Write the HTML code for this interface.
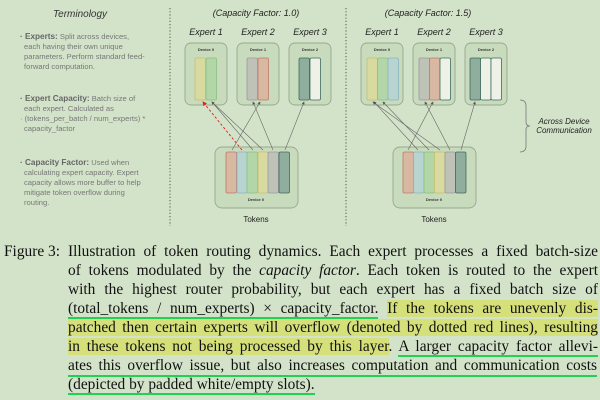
<!DOCTYPE html>
<html><head><meta charset="utf-8"><style>
html,body{margin:0;padding:0;background:#d3e3c9;width:600px;height:400px;overflow:hidden}
.cap{position:absolute;left:0;font-family:"Liberation Serif",serif;font-size:15.4px;color:#111;white-space:nowrap}
.ln{position:absolute;left:68px;width:530px;text-align:justify;text-align-last:justify;white-space:nowrap}
.hl{background:#d5e07a}
.ul{border-bottom:2px solid #22d055;padding-bottom:0px}
</style></head><body>
<svg width="600" height="230" style="position:absolute;left:0;top:0" font-family="Liberation Sans, sans-serif">
<defs><marker id="a" markerWidth="5" markerHeight="5" refX="4" refY="2.5" orient="auto"><path d="M0,0 L5,2.5 L0,5z" fill="#555"/></marker>
<marker id="r" markerWidth="5" markerHeight="5" refX="4" refY="2.5" orient="auto"><path d="M0,0 L5,2.5 L0,5z" fill="#e02020"/></marker></defs>
<text x="80" y="17" font-size="10" font-style="italic" text-anchor="middle" fill="#333">Terminology</text>
<g font-size="7.6" fill="#777">
<text x="20" y="39"><tspan font-weight="bold" fill="#666" font-size="8.2">· Experts:</tspan> Split across devices,</text>
<text x="24" y="49">each having their own unique</text>
<text x="24" y="59">parameters. Perform standard feed-</text>
<text x="24" y="69">forward computation.</text>
<text x="20" y="101"><tspan font-weight="bold" fill="#666" font-size="8.2">· Expert Capacity:</tspan> Batch size of</text>
<text x="24" y="111">each expert. Calculated as</text>
<text x="20" y="121">· (tokens_per_batch / num_experts) *</text>
<text x="24" y="131">capacity_factor</text>
<text x="20" y="165"><tspan font-weight="bold" fill="#666" font-size="8.2">· Capacity Factor:</tspan> Used when</text>
<text x="24" y="175">calculating expert capacity. Expert</text>
<text x="24" y="185">capacity allows more buffer to help</text>
<text x="24" y="195">mitigate token overflow during</text>
<text x="24" y="205">routing.</text>
</g>
<line x1="170" y1="8" x2="170" y2="226" stroke="#555" stroke-dasharray="1.2,2"/>
<line x1="346" y1="8" x2="346" y2="226" stroke="#555" stroke-dasharray="1.2,2"/>
<g font-size="9" font-style="italic" fill="#222" text-anchor="middle">
<text x="256" y="16">(Capacity Factor: 1.0)</text>
<text x="428" y="16">(Capacity Factor: 1.5)</text>
<text x="206" y="35">Expert 1</text><text x="258" y="35">Expert 2</text><text x="310" y="35">Expert 3</text>
<text x="382" y="35">Expert 1</text><text x="434" y="35">Expert 2</text><text x="486" y="35">Expert 3</text>
<text x="564" y="124" font-size="8">Across Device</text><text x="564" y="133" font-size="8">Communication</text>
</g>
<path d="M520,100 Q526,100 526,106 L526,122 Q526,126 530,126 Q526,126 526,130 L526,146 Q526,152 520,152" fill="none" stroke="#777" stroke-width="0.8"/>
<g fill="#c8dbbd" stroke="#97a890" stroke-width="0.9">
<rect x="185" y="43" width="42" height="62" rx="6"/><rect x="237" y="43" width="42" height="62" rx="6"/><rect x="289" y="43" width="42" height="62" rx="6"/>
<rect x="215" y="147" width="83" height="61" rx="7"/>
<rect x="361" y="43" width="42" height="62" rx="6"/><rect x="413" y="43" width="42" height="62" rx="6"/><rect x="465" y="43" width="42" height="62" rx="6"/>
<rect x="393" y="147" width="83" height="61" rx="7"/>
</g>
<g font-size="4" font-weight="bold" fill="#333" text-anchor="middle">
<text x="206" y="51">Device 0</text><text x="258" y="51">Device 1</text><text x="310" y="51">Device 2</text>
<text x="256" y="201">Device 0</text>
<text x="382" y="51">Device 0</text><text x="434" y="51">Device 1</text><text x="486" y="51">Device 2</text>
<text x="434" y="201">Device 0</text>
</g>
<g font-size="8" fill="#222" text-anchor="middle"><text x="256" y="222">Tokens</text><text x="434" y="222">Tokens</text></g>
<g stroke-width="0.8">
<rect x="195" y="58" width="10.5" height="42" rx="1.5" fill="#d8daa0" stroke="#c9c070"/>
<rect x="206" y="58" width="10.5" height="42" rx="1.5" fill="#b2d6a8" stroke="#8cc080"/>
<rect x="247" y="58" width="10.5" height="42" rx="1.5" fill="#bfc2b6" stroke="#9a9aa0"/>
<rect x="258" y="58" width="10.5" height="42" rx="1.5" fill="#d8b8a0" stroke="#c07a6a"/>
<rect x="299" y="58" width="10.5" height="42" rx="1.5" fill="#8fae9e" stroke="#3f6a60"/>
<rect x="310" y="58" width="10.5" height="42" rx="1.5" fill="#eef2e6" stroke="#3f6a60"/>
<rect x="226" y="152" width="10.5" height="41" rx="1.5" fill="#d8b8a0" stroke="#c07a6a"/>
<rect x="237" y="152" width="10.5" height="41" rx="1.5" fill="#b8d4d0" stroke="#8ab4c0"/>
<rect x="247" y="152" width="10.5" height="41" rx="1.5" fill="#b2d6a8" stroke="#8cc080"/>
<rect x="258" y="152" width="10.5" height="41" rx="1.5" fill="#d8daa0" stroke="#c9c070"/>
<rect x="268" y="152" width="10.5" height="41" rx="1.5" fill="#bfc2b6" stroke="#9a9aa0"/>
<rect x="279" y="152" width="10.5" height="41" rx="1.5" fill="#8fae9e" stroke="#3f6a60"/>
<rect x="367" y="58" width="10.5" height="42" rx="1.5" fill="#d8daa0" stroke="#c9c070"/>
<rect x="377.5" y="58" width="10.5" height="42" rx="1.5" fill="#b2d6a8" stroke="#8cc080"/>
<rect x="388" y="58" width="10.5" height="42" rx="1.5" fill="#b8d4d0" stroke="#8ab4c0"/>
<rect x="419" y="58" width="10.5" height="42" rx="1.5" fill="#bfc2b6" stroke="#9a9aa0"/>
<rect x="429.5" y="58" width="10.5" height="42" rx="1.5" fill="#d8b8a0" stroke="#c07a6a"/>
<rect x="440" y="58" width="10.5" height="42" rx="1.5" fill="#eef2e6" stroke="#3f6a60"/>
<rect x="470" y="58" width="10.5" height="42" rx="1.5" fill="#8fae9e" stroke="#3f6a60"/>
<rect x="480.5" y="58" width="10.5" height="42" rx="1.5" fill="#eef2e6" stroke="#3f6a60"/>
<rect x="491" y="58" width="10.5" height="42" rx="1.5" fill="#eef2e6" stroke="#3f6a60"/>
<rect x="403" y="152" width="10.5" height="41" rx="1.5" fill="#d8b8a0" stroke="#c07a6a"/>
<rect x="413.5" y="152" width="10.5" height="41" rx="1.5" fill="#b8d4d0" stroke="#8ab4c0"/>
<rect x="424" y="152" width="10.5" height="41" rx="1.5" fill="#b2d6a8" stroke="#8cc080"/>
<rect x="434.5" y="152" width="10.5" height="41" rx="1.5" fill="#d8daa0" stroke="#c9c070"/>
<rect x="445" y="152" width="10.5" height="41" rx="1.5" fill="#bfc2b6" stroke="#9a9aa0"/>
<rect x="455.5" y="152" width="10.5" height="41" rx="1.5" fill="#8fae9e" stroke="#3f6a60"/>
</g>
<g stroke="#666" stroke-width="0.6" marker-end="url(#a)">
<line x1="232" y1="150" x2="260" y2="102"/>
<line x1="253" y1="150" x2="212" y2="102"/>
<line x1="263" y1="150" x2="212" y2="102"/>
<line x1="273" y1="150" x2="253" y2="102"/>
<line x1="285" y1="150" x2="304" y2="102"/>
<line x1="408" y1="150" x2="433" y2="102"/>
<line x1="418" y1="150" x2="374" y2="102"/>
<line x1="429" y1="150" x2="383" y2="102"/>
<line x1="440" y1="150" x2="373" y2="102"/>
<line x1="450" y1="150" x2="425" y2="102"/>
<line x1="461" y1="150" x2="475" y2="102"/>
</g>
<line x1="242" y1="150" x2="203" y2="102" stroke="#e02020" stroke-width="0.9" stroke-dasharray="2.5,2" marker-end="url(#r)"/>
</svg>
<div class="cap">
<div style="position:absolute;left:4px;top:243px">Figure 3:</div>
<div class="ln" style="top:243px">Illustration of token routing dynamics. Each expert processes a fixed batch-size</div>
<div class="ln" style="top:262px">of tokens modulated by the <i>capacity factor</i>. Each token is routed to the expert</div>
<div class="ln" style="top:281px">with the highest router probability, but each expert has a fixed batch size of</div>
<div class="ln" style="top:300px"><span class="ul">(total_tokens / num_experts) × capacity_factor.</span> <span class="hl">If the tokens are unevenly dis-</span></div>
<div class="ln" style="top:319px"><span class="hl">patched then certain experts will overflow (denoted by dotted red lines), resulting</span></div>
<div class="ln" style="top:338px"><span class="hl">in these tokens not being processed by this layer</span>. <span class="ul">A larger capacity factor allevi-</span></div>
<div class="ln ul" style="top:357px;width:529px">ates this overflow issue, but also increases computation and communication costs</div>
<div style="position:absolute;left:68px;top:376px"><span class="ul">(depicted by padded white/empty slots).</span></div>
</div>
</body></html>
